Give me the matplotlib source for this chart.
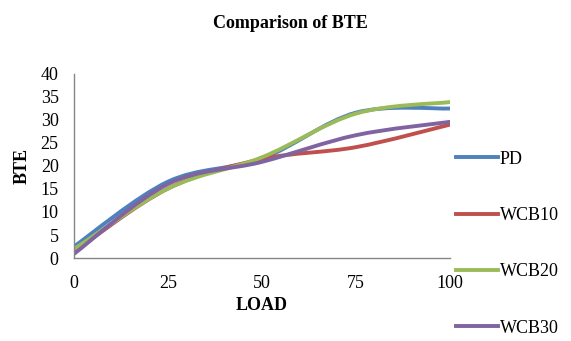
import numpy as np
import matplotlib
matplotlib.use('Agg')
import matplotlib.pyplot as plt
from matplotlib.path import Path
from matplotlib.patches import PathPatch
from matplotlib.lines import Line2D

plt.rcParams['font.family'] = ['Liberation Serif', 'DejaVu Serif']

# data
load = [0, 25, 50, 75, 100]
pd_bte = [2.5, 16.6, 21.6, 31.6, 32.5]
wcb10 = [1.4, 15.1, 21.5, 24.1, 29.0]
wcb20 = [1.9, 15.1, 21.9, 31.4, 33.9]
wcb30 = [0.9, 16.1, 20.9, 26.7, 29.6]

series_names = ['PD', 'WCB10', 'WCB20', 'WCB30']
series_values = [pd_bte, wcb10, wcb20, wcb30]
colours = ['#4F81BD', '#C0504D', '#9BBB59', '#8064A2']


# excel style smoothed line: cubic bezier segments through the points
def smooth_path(xs, ys):
    pts = np.column_stack([xs, ys]).astype(float)
    n = len(pts)
    verts = [pts[0]]
    codes = [Path.MOVETO]
    for i in range(n - 1):
        p0 = pts[max(i - 1, 0)]
        p1 = pts[i]
        p2 = pts[i + 1]
        p3 = pts[min(i + 2, n - 1)]
        c1 = p1 + (p2 - p0) / 6.0
        c2 = p2 - (p3 - p1) / 6.0
        verts += [c1, c2, p2]
        codes += [Path.CURVE4] * 3
    return Path(verts, codes)


fig = plt.figure(figsize=(5.71, 3.41), dpi=100)
ax = fig.add_axes([0.1296, 0.2434, 0.6585, 0.5396])

for name, vals, col in zip(series_names, series_values, colours):
    patch = PathPatch(smooth_path(load, vals), facecolor='none', edgecolor=col,
                      lw=2.8, capstyle='round', joinstyle='round')
    ax.add_patch(patch)

ax.set_xlim(0, 100)
ax.set_ylim(0, 40)
ax.set_xticks(load)
ax.set_yticks(np.arange(0, 41, 5))
ax.tick_params(length=0, labelsize=13)
ax.tick_params(axis='x', pad=12)
ax.tick_params(axis='y', pad=11)
for s in ['top', 'right']:
    ax.spines[s].set_visible(False)
for s in ['left', 'bottom']:
    ax.spines[s].set_color('#868686')
    ax.spines[s].set_linewidth(1.0)

ax.set_xlabel('LOAD', fontsize=13, fontweight='bold', labelpad=4)
ax.set_ylabel('BTE', fontsize=13, fontweight='bold', labelpad=7)
fig.text(0.508, 0.932, 'Comparison of BTE', ha='center', va='center',
         fontsize=13, fontweight='bold')

handles = [Line2D([], [], color=c, lw=2.8) for c in colours]
fig.legend(handles, series_names, loc='upper left', bbox_to_anchor=(0.799, 0.558),
           frameon=False, fontsize=13, handlelength=2.3, handletextpad=0.12,
           labelspacing=2.18, borderaxespad=0, borderpad=0)

fig.savefig('out.png', dpi=100)
